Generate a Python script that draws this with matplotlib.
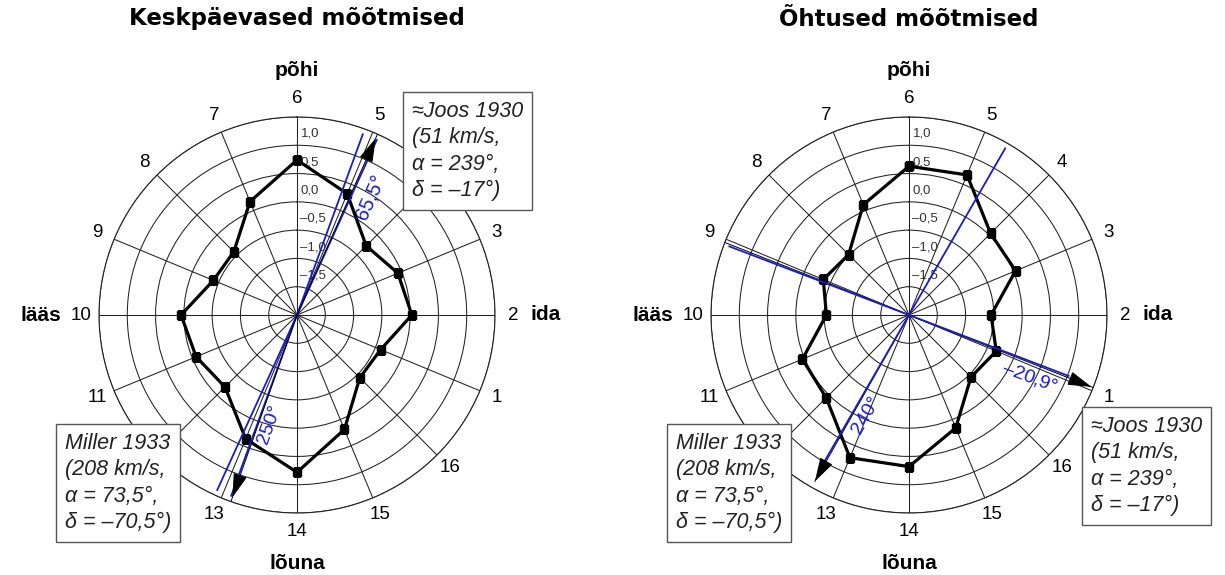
import numpy as np
import matplotlib

matplotlib.use("Agg")

from matplotlib import pyplot as plt
from matplotlib import transforms

plt.rcParams["font.family"] = ["Liberation Sans", "DejaVu Sans"]

# hour labels, clockwise starting from the top (põhi)
hours = [6, 5, 4, 3, 2, 1, 16, 15, 14, 13, 12, 11, 10, 9, 8, 7]

# values, same order as hours
noon_values = [0.74, 0.32, -0.27, -0.07, 0.03, -0.40, -0.43, 0.19,
               0.78, 0.37, -0.20, -0.07, 0.05, -0.40, -0.42, 0.17]
evening_values = [0.63, 0.68, 0.04, 0.04, -0.55, -0.33, -0.45, 0.16,
                  0.68, 0.73, 0.07, 0.04, -0.54, -0.36, -0.49, 0.11]

# hour labels that are covered by the annotation boxes in the original
noon_hidden = [4, 12]
evening_hidden = [12]

ring_values = [-1.5, -1.0, -0.5, 0.0, 0.5, 1.0, 1.5]
ring_label_values = [1.0, 0.5, 0.0, -0.5, -1.0, -1.5]
ring_labels = ["1,0", "0,5", "0,0", "–0,5", "–1,0", "–1,5"]
r_min, r_max = -2.0, 1.5

# fitted directions (blue lines), degrees counter-clockwise from east
noon_fit_angles = [65.5, 250.0]
noon_fit_labels = ["65,5°", "250°"]
evening_fit_angles = [-20.9, 240.0]
evening_fit_labels = ["–20,9°", "240°"]

# expected directions (black arrows): Joos 1930, Miller 1933
noon_ref_angles = [66.0, 250.5]
evening_ref_angles = [-21.5, 240.5]

titles = ["Keskpäevased mõõtmised", "Õhtused mõõtmised"]
joos_text = "≈Joos 1930\n(51 km/s,\nα = 239°,\nδ = –17°)"
miller_text = "Miller 1933\n(208 km/s,\nα = 73,5°,\nδ = –70,5°)"

BLUE = "#1a1acd"
W, H = 1225, 575


def hour_theta(h):
    return np.deg2rad(((6 - h) * 22.5) % 360)


def math_theta(phi):
    # counter-clockwise-from-east angle -> clockwise-from-north theta
    return np.deg2rad(90.0 - phi)


def radial_line(ax, phi, r_end, **kw):
    t = math_theta(phi)
    ax.plot([t, t], [r_min, r_end], **kw)


def arrow_head(ax, phi, tip):
    t = math_theta(phi)
    ax.annotate("", xy=(t, tip), xytext=(t, tip - 0.25),
                arrowprops=dict(arrowstyle="-|>,head_length=0.75,head_width=0.22",
                                color="black", lw=0.8, shrinkA=0, shrinkB=0,
                                mutation_scale=20), zorder=6)


def draw_radar(ax, values, hidden):
    ax.set_theta_zero_location("N")
    ax.set_theta_direction(-1)
    ax.set_ylim(r_min, r_max)

    thetas = [hour_theta(h) for h in hours]
    ax.set_xticks(thetas)
    ax.set_xticklabels([])
    ax.set_yticks(ring_values)
    ax.set_yticklabels([])
    ax.grid(True, color="#222222", lw=0.75)
    ax.spines["polar"].set_color("#222222")
    ax.spines["polar"].set_linewidth(0.8)

    for h, t in zip(hours, thetas):
        if h in hidden:
            continue
        ax.text(t, 1.82, str(h), ha="center", va="center", fontsize=13.5)

    off = transforms.offset_copy(ax.transData, fig=ax.figure, x=2.5, y=0, units="points")
    for v, lab in zip(ring_label_values, ring_labels):
        ax.text(0, v + 0.2, lab, transform=off, ha="left", va="center",
                fontsize=9.5, color="#333333")

    tt = thetas + [thetas[0]]
    vv = values + [values[0]]
    ax.plot(tt, vv, color="black", lw=2.3, marker="s", ms=5.5, zorder=4)

    ax.text(0, 2.32, "põhi", ha="center", va="center", fontsize=15, fontweight="bold")
    ax.text(np.pi, 2.4, "lõuna", ha="center", va="center", fontsize=15, fontweight="bold")
    ax.text(np.pi / 2, 2.13, "ida", ha="left", va="center", fontsize=15, fontweight="bold")
    ax.text(3 * np.pi / 2, 2.17, "lääs", ha="right", va="center", fontsize=15, fontweight="bold")


def box(fig, x_px, y_px, text):
    fig.text(x_px / W, 1 - y_px / H, text, ha="left", va="top", fontsize=15.5,
             style="italic", linespacing=1.33, color="#222222",
             bbox=dict(boxstyle="square,pad=0.4", fc="white", ec="#555555", lw=1.0))


fig = plt.figure(figsize=(W / 100, H / 100), dpi=100)
size = 396
ax1 = fig.add_axes([(297 - 198) / W, (H - 315 - 198) / H, size / W, size / H], projection="polar")
ax2 = fig.add_axes([(909 - 198) / W, (H - 315 - 198) / H, size / W, size / H], projection="polar")

draw_radar(ax1, noon_values, noon_hidden)
draw_radar(ax2, evening_values, evening_hidden)

# --- noon: blue fitted directions (full diameters) and black arrows
for phi in noon_fit_angles:
    radial_line(ax1, phi, 1.4, color=BLUE, lw=1.3, zorder=5)
    radial_line(ax1, phi + 180, 1.4, color=BLUE, lw=1.3, zorder=5)
for phi in noon_ref_angles:
    radial_line(ax1, phi, 1.5, color="black", lw=0.7, zorder=5)
    arrow_head(ax1, phi, 1.42)
ax1.text(math_theta(58), 0.45, noon_fit_labels[0], rotation=noon_fit_angles[0],
         ha="center", va="center", fontsize=14.5, color=BLUE, rotation_mode="anchor")
ax1.text(math_theta(256), 0.0, noon_fit_labels[1], rotation=noon_fit_angles[1] - 180,
         ha="center", va="center", fontsize=14, color=BLUE, rotation_mode="anchor")

# --- evening
phi_j, phi_m = evening_fit_angles
radial_line(ax2, phi_j, 1.02, color=BLUE, lw=1.3, zorder=5)
radial_line(ax2, phi_j + 180, 1.4, color=BLUE, lw=1.3, zorder=5)
radial_line(ax2, phi_m, 1.2, color=BLUE, lw=1.3, zorder=5)
radial_line(ax2, phi_m - 180, 1.4, color=BLUE, lw=1.3, zorder=5)
ref_j, ref_m = evening_ref_angles
radial_line(ax2, ref_j, 1.5, color="black", lw=0.7, zorder=4.5)
radial_line(ax2, ref_j + 180, 1.5, color="black", lw=0.7, zorder=4.5)
arrow_head(ax2, ref_j, 1.47)
radial_line(ax2, ref_m, 1.38, color="black", lw=0.7, zorder=4.5)
arrow_head(ax2, ref_m, 1.38)
ax2.text(math_theta(-27.5), 0.4, evening_fit_labels[0], rotation=evening_fit_angles[0],
         ha="center", va="center", fontsize=14, color=BLUE, rotation_mode="anchor")
ax2.text(math_theta(247), -0.08, evening_fit_labels[1], rotation=evening_fit_angles[1] - 180,
         ha="center", va="center", fontsize=14, color=BLUE, rotation_mode="anchor")

fig.text(297 / W, 1 - 19 / H, titles[0], ha="center", va="center", fontsize=16.5,
         fontweight="bold", family="DejaVu Sans")
fig.text(909 / W, 1 - 19 / H, titles[1], ha="center", va="center", fontsize=16.5,
         fontweight="bold", family="DejaVu Sans")

box(fig, 412, 101, joos_text)
box(fig, 65, 433, miller_text)
box(fig, 676, 433, miller_text)
box(fig, 1091, 416, joos_text)

fig.savefig("out.png", dpi=100)
